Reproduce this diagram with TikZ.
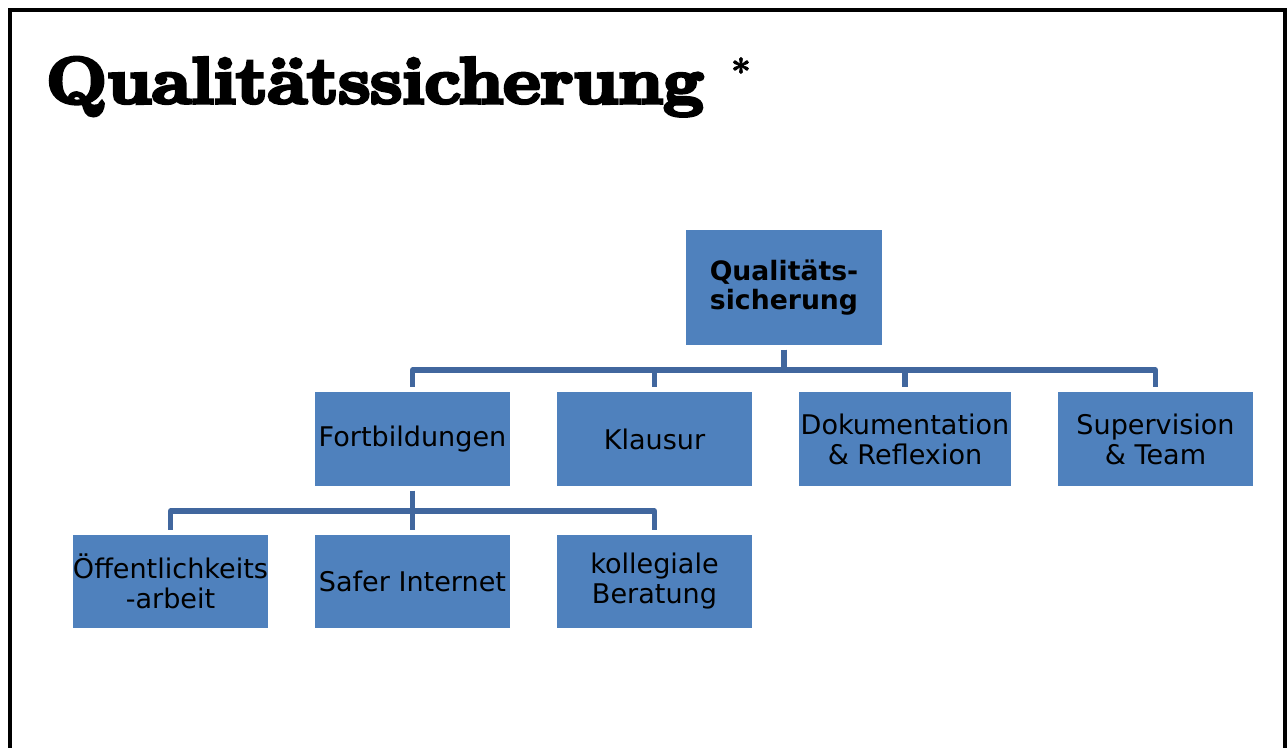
\documentclass[tikz,border=0pt]{standalone}
\usepackage{fontspec}
\newfontfamily\boxfont{DejaVu Sans}
\newfontfamily\titlefont{Latin Modern Roman}[FakeBold=5.5]
\newfontfamily\starfont{Latin Modern Roman}[FakeBold=2]
\definecolor{boxblue}{HTML}{4F81BD}
\definecolor{linkblue}{HTML}{41679E}
\begin{document}
\begin{tikzpicture}[x=0.75pt,y=-0.75pt,
  orgbox/.style={fill=boxblue, draw=none, inner sep=0pt, align=center,
    minimum width=146.25pt, minimum height=70.5pt,
    font=\boxfont\fontsize{20.3}{22.5}\selectfont},
  rootbox/.style={orgbox, minimum width=147pt, minimum height=86.25pt,
    font=\boxfont\bfseries\fontsize{20}{22}\selectfont},
  link/.style={draw=linkblue, line width=3.8pt, line join=round,
    shorten <=3.4pt, shorten >=3.4pt}]
  \useasboundingbox (0,0) rectangle (1288,747);
  % slide frame, open at the bottom
  \draw[line width=2.6pt] (10,760) -- (10,10) -- (1285,10) -- (1285,760);

  % heading
  \node[anchor=base west, inner sep=0pt] (title) at (46,103)
    {\scalebox{1.1}[1]{\titlefont\bfseries\fontsize{49}{56}\selectfont Qualitätssicherung}};
  \node[inner sep=0pt] (star) at (741,71)
    {\starfont\bfseries\fontsize{27}{32}\selectfont *};

  % organisation chart
  \node[rootbox] (root) at (784,287.5) {Qualitäts-\\sicherung};

  \node[orgbox] (fort) at (412.5,439) {Fortbildungen};
  \node[orgbox] (klaus) at (654.5,439) {Klausur};
  \node[orgbox, minimum width=159pt] (doku) at (905,439) {Dokumentation\\\& Reflexion};
  \node[orgbox] (superv) at (1155.5,439) {Supervision\\\& Team};

  \node[orgbox, minimum height=69.75pt] (oeff) at (170.5,581.5) {Öffentlichkeits\\-arbeit};
  \node[orgbox, minimum height=69.75pt] (safer) at (412.5,581.5) {Safer Internet};
  \node[orgbox, minimum height=69.75pt] (koll) at (654.5,581.5) {kollegiale\\Beratung};

  % connector buses
  \coordinate (busA) at (784,370);
  \coordinate (busB) at (413,511);

  \foreach \c in {fort,klaus,doku,superv}
    \draw[link] (root.south) |- (\c.north |- busA) -- (\c.north);
  \foreach \c in {oeff,safer,koll}
    \draw[link] (fort.south) |- (\c.north |- busB) -- (\c.north);
\end{tikzpicture}
\end{document}
